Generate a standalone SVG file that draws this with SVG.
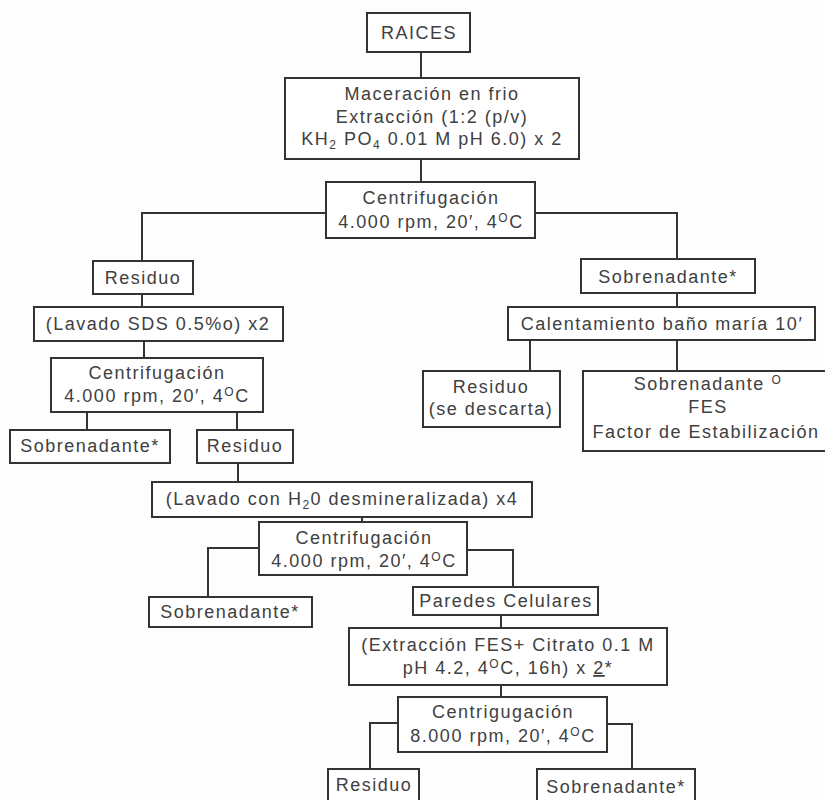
<svg xmlns="http://www.w3.org/2000/svg" width="825" height="800" viewBox="0 0 825 800">
<style>
.b{fill:#fff;stroke:#333;stroke-width:2}
.t{font-family:"Liberation Sans",Arial,sans-serif;font-size:18px;letter-spacing:1.5px;fill:#404040;text-anchor:middle}
.s{font-size:12px}
.c{fill:none;stroke:#333;stroke-width:2}
</style>
<rect width="825" height="800" fill="#fdfdfd"/>
<g id="connectors" class="c">
<path d="M421 52V78"/>
<path d="M421 159V182"/>
<path d="M326 213H142V261"/>
<path d="M535 213H677V259"/>
<path d="M142 294V307"/>
<path d="M144 341V358"/>
<path d="M87 412V430"/>
<path d="M237 412V430"/>
<path d="M238 463V482"/>
<path d="M362 517V522"/>
<path d="M259 548H208V597"/>
<path d="M467 550H513V587"/>
<path d="M501 615V628"/>
<path d="M501 685V697"/>
<path d="M398 723H370V769"/>
<path d="M607 724H632V769"/>
<path d="M677 293V307"/>
<path d="M530 340V371"/>
<path d="M677 340V371"/>
</g>
<g id="raices"><rect class="b" x="367" y="13" width="103" height="39"/><text class="t" x="419" y="39">RAICES</text></g>
<g id="maceracion"><rect class="b" x="285" y="78" width="294" height="81"/>
<text class="t" x="432" y="100">Maceración en frio</text>
<text class="t" x="432" y="123">Extracción (1:2 (p/v)</text>
<text class="t" x="432" y="145">KH<tspan class="s" dy="4">2</tspan><tspan dy="-4"> PO</tspan><tspan class="s" dy="4">4</tspan><tspan dy="-4"> 0.01 M pH 6.0) x 2</tspan></text></g>
<g id="centrif1"><rect class="b" x="326" y="182" width="209" height="56"/>
<text class="t" x="431" y="204">Centrifugación</text>
<text class="t" x="431" y="228">4.000 rpm, 20′, 4<tspan class="s" dy="-6">O</tspan><tspan dy="6">C</tspan></text></g>
<g id="residuo1"><rect class="b" x="93" y="261" width="100" height="33"/><text class="t" x="143" y="284">Residuo</text></g>
<g id="lavadoSDS"><rect class="b" x="34" y="307" width="249" height="34"/><text class="t" x="158" y="330">(Lavado SDS 0.5%o) x2</text></g>
<g id="centrif2"><rect class="b" x="51" y="358" width="212" height="54"/>
<text class="t" x="157" y="379">Centrifugación</text>
<text class="t" x="157" y="402">4.000 rpm, 20′, 4<tspan class="s" dy="-6">O</tspan><tspan dy="6">C</tspan></text></g>
<g id="sobren2"><rect class="b" x="10" y="430" width="160" height="33"/><text class="t" x="90" y="452">Sobrenadante*</text></g>
<g id="residuo2"><rect class="b" x="197" y="430" width="96" height="33"/><text class="t" x="245" y="452">Residuo</text></g>
<g id="lavadoH2O"><rect class="b" x="152" y="482" width="380" height="35"/><text class="t" x="342" y="505">(Lavado con H<tspan class="s" dy="4">2</tspan><tspan dy="-4">0 desmineralizada) x4</tspan></text></g>
<g id="centrif3"><rect class="b" x="259" y="522" width="208" height="53"/>
<text class="t" x="364" y="544">Centrifugación</text>
<text class="t" x="364" y="567">4.000 rpm, 20′, 4<tspan class="s" dy="-6">O</tspan><tspan dy="6">C</tspan></text></g>
<g id="sobren3"><rect class="b" x="149" y="597" width="163" height="30"/><text class="t" x="230" y="618">Sobrenadante*</text></g>
<g id="paredes"><rect class="b" x="413" y="587" width="185" height="28"/><text class="t" x="506" y="607">Paredes Celulares</text></g>
<g id="extraccionFES"><rect class="b" x="349" y="628" width="318" height="57"/>
<text class="t" x="508" y="651">(Extracción FES+ Citrato 0.1 M</text>
<text class="t" x="508" y="674">pH 4.2, 4<tspan class="s" dy="-6">O</tspan><tspan dy="6">C, 16h) x </tspan><tspan text-decoration="underline">2</tspan>*</text></g>
<g id="centrif4"><rect class="b" x="398" y="697" width="209" height="55"/>
<text class="t" x="503" y="718">Centrigugación</text>
<text class="t" x="503" y="742">8.000 rpm, 20′, 4<tspan class="s" dy="-6">O</tspan><tspan dy="6">C</tspan></text></g>
<g id="residuo4"><rect class="b" x="328" y="769" width="91" height="40"/><text class="t" x="374" y="791">Residuo</text></g>
<g id="sobren4"><rect class="b" x="537" y="769" width="158" height="40"/><text class="t" x="616" y="793">Sobrenadante*</text></g>
<g id="sobrenR"><rect class="b" x="581" y="259" width="174" height="34"/><text class="t" x="668" y="283">Sobrenadante*</text></g>
<g id="calentamiento"><rect class="b" x="508" y="307" width="307" height="33"/><text class="t" x="662" y="330">Calentamiento baño maría 10′</text></g>
<g id="residuoDesc"><rect class="b" x="423" y="371" width="137" height="56"/>
<text class="t" x="491" y="393">Residuo</text>
<text class="t" x="491" y="415">(se descarta)</text></g>
<g id="fes"><rect class="b" x="583" y="371" width="250" height="80"/>
<text class="t" x="708" y="390">Sobrenadante <tspan class="s" dy="-6">O</tspan></text>
<text class="t" x="708" y="413">FES</text>
<text class="t" x="706" y="438">Factor de Estabilización</text></g>
</svg>
